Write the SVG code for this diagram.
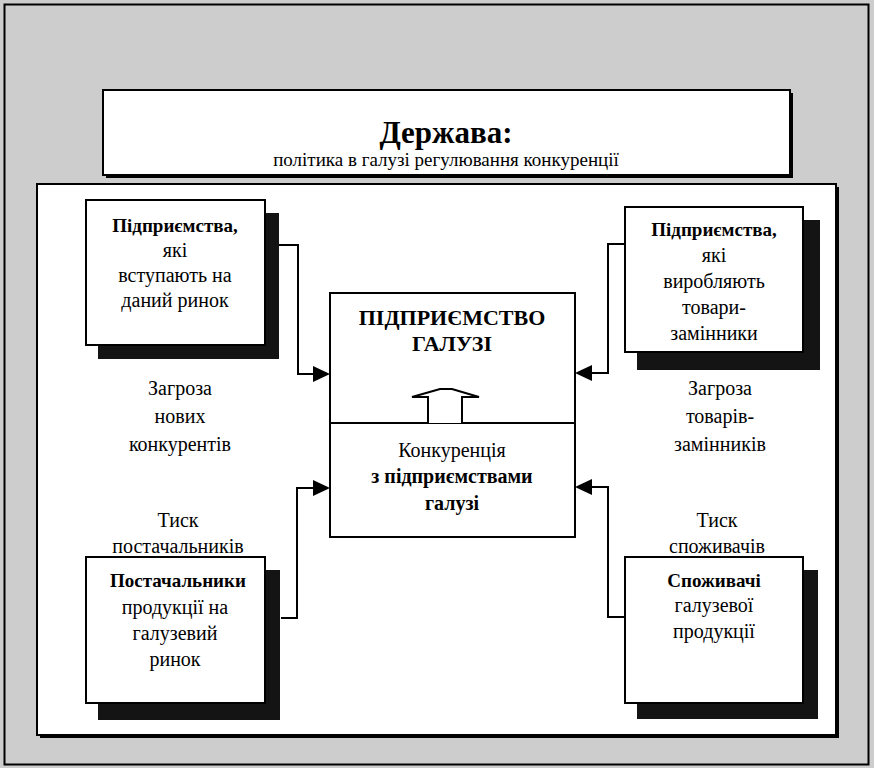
<svg xmlns="http://www.w3.org/2000/svg" width="874" height="768" viewBox="0 0 874 768">
<g id="background">
<rect x="0" y="0" width="874" height="768" fill="#cdcdcd"/>
<rect x="4.5" y="4.5" width="864" height="760" fill="none" stroke="#000" stroke-width="2"/>
</g>

<g id="state">
<rect x="106" y="93" width="687" height="85" fill="#000"/>
<rect x="103" y="90" width="687" height="85" fill="#fff" stroke="#000" stroke-width="2"/>
<text x="446" y="143" font-family="Liberation Serif" font-size="31" font-weight="bold" text-anchor="middle">Держава:</text>
<text x="446" y="166" font-family="Liberation Serif" font-size="19" text-anchor="middle">політика в галузі регулювання конкуренції</text>
</g>

<g id="panel">
<rect x="40" y="187" width="799" height="551" fill="#000"/>
<rect x="37" y="184" width="799" height="551" fill="#fff" stroke="#000" stroke-width="2"/>
</g>

<g id="labels">
<text font-family="Liberation Serif" font-size="20" text-anchor="middle" x="180" y="395">Загроза</text>
<text font-family="Liberation Serif" font-size="20" text-anchor="middle" x="180" y="423">нових</text>
<text font-family="Liberation Serif" font-size="20" text-anchor="middle" x="180" y="451">конкурентів</text>
<text font-family="Liberation Serif" font-size="20" text-anchor="middle" x="178" y="527">Тиск</text>
<text font-family="Liberation Serif" font-size="20" text-anchor="middle" x="178" y="553">постачальників</text>
<text font-family="Liberation Serif" font-size="20" text-anchor="middle" x="720" y="395">Загроза</text>
<text font-family="Liberation Serif" font-size="20" text-anchor="middle" x="720" y="423">товарів-</text>
<text font-family="Liberation Serif" font-size="20" text-anchor="middle" x="720" y="451">замінників</text>
<text font-family="Liberation Serif" font-size="20" text-anchor="middle" x="717" y="527">Тиск</text>
<text font-family="Liberation Serif" font-size="20" text-anchor="middle" x="717" y="553">споживачів</text>
</g>

<g id="connectors">
<path d="M279,245 H298 V374 H314" fill="none" stroke="#000" stroke-width="2"/>
<path d="M313,366 L330,374 L313,382 Z" fill="#000"/>
<path d="M624,244 H608 V373 H591" fill="none" stroke="#000" stroke-width="2"/>
<path d="M592,365 L575,373 L592,381 Z" fill="#000"/>
<path d="M281,618 H297 V488 H314" fill="none" stroke="#000" stroke-width="2"/>
<path d="M313,480 L330,488 L313,496 Z" fill="#000"/>
<path d="M624,617 H608 V487 H591" fill="none" stroke="#000" stroke-width="2"/>
<path d="M592,479 L575,487 L592,495 Z" fill="#000"/>
</g>

<g id="new-entrants">
<rect x="98" y="213" width="181" height="146" fill="#141414"/>
<rect x="86" y="200" width="179" height="145" fill="#fff" stroke="#000" stroke-width="2"/>
<text font-family="Liberation Serif" font-size="19" font-weight="bold" text-anchor="middle" x="175" y="232">Підприємства,</text>
<text font-family="Liberation Serif" font-size="20" text-anchor="middle" x="175" y="257">які</text>
<text font-family="Liberation Serif" font-size="20" text-anchor="middle" x="175" y="282">вступають на</text>
<text font-family="Liberation Serif" font-size="20" text-anchor="middle" x="175" y="307">даний ринок</text>
</g>

<g id="substitutes">
<rect x="637" y="220" width="183" height="150" fill="#141414"/>
<rect x="625" y="207" width="178" height="145" fill="#fff" stroke="#000" stroke-width="2"/>
<text font-family="Liberation Serif" font-size="19" font-weight="bold" text-anchor="middle" x="714" y="236">Підприємства,</text>
<text font-family="Liberation Serif" font-size="20" text-anchor="middle" x="714" y="262">які</text>
<text font-family="Liberation Serif" font-size="20" text-anchor="middle" x="714" y="288">виробляють</text>
<text font-family="Liberation Serif" font-size="20" text-anchor="middle" x="714" y="314">товари-</text>
<text font-family="Liberation Serif" font-size="20" text-anchor="middle" x="714" y="340">замінники</text>
</g>

<g id="suppliers">
<rect x="98" y="570" width="182" height="150" fill="#141414"/>
<rect x="86" y="557" width="179" height="146" fill="#fff" stroke="#000" stroke-width="2"/>
<text font-family="Liberation Serif" font-size="19" font-weight="bold" text-anchor="middle" x="178" y="587">Постачальники</text>
<text font-family="Liberation Serif" font-size="20" text-anchor="middle" x="175" y="614">продукції на</text>
<text font-family="Liberation Serif" font-size="20" text-anchor="middle" x="175" y="640">галузевий</text>
<text font-family="Liberation Serif" font-size="20" text-anchor="middle" x="175" y="666">ринок</text>
</g>

<g id="consumers">
<rect x="637" y="570" width="181" height="149" fill="#141414"/>
<rect x="625" y="557" width="178" height="146" fill="#fff" stroke="#000" stroke-width="2"/>
<text font-family="Liberation Serif" font-size="19" font-weight="bold" text-anchor="middle" x="714" y="587">Споживачі</text>
<text font-family="Liberation Serif" font-size="20" text-anchor="middle" x="714" y="612">галузевої</text>
<text font-family="Liberation Serif" font-size="20" text-anchor="middle" x="714" y="638">продукції</text>
</g>

<g id="industry">
<rect x="330" y="293" width="245" height="244" fill="#fff" stroke="#000" stroke-width="2"/>
<line x1="330" y1="423" x2="575" y2="423" stroke="#000" stroke-width="2"/>
<text font-family="Liberation Serif" font-size="22" font-weight="bold" text-anchor="middle" x="452" y="325">ПІДПРИЄМСТВО</text>
<text font-family="Liberation Serif" font-size="22" font-weight="bold" text-anchor="middle" x="452" y="351">ГАЛУЗІ</text>
<path d="M428,423 V397 H412 L440,389 H452 L479,397 H462 V423" fill="#fff" stroke="#000" stroke-width="2"/>
<text font-family="Liberation Serif" font-size="20" text-anchor="middle" x="452" y="457">Конкуренція</text>
<text font-family="Liberation Serif" font-size="20" font-weight="bold" text-anchor="middle" x="452" y="483">з підприємствами</text>
<text font-family="Liberation Serif" font-size="20" font-weight="bold" text-anchor="middle" x="452" y="510">галузі</text>
</g>
</svg>
